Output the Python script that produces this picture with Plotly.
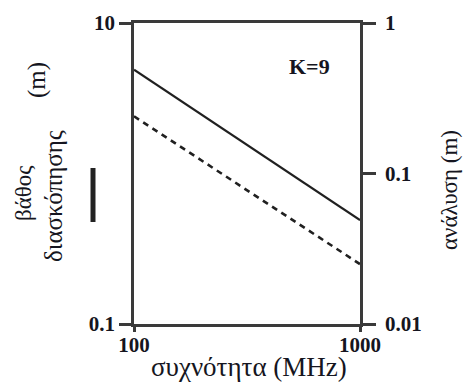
import plotly.graph_objects as go

# Frequency (MHz)
freq = [100, 1000]
# Penetration depth (m), left axis
depth = [4.9, 0.49]
# Resolution (m), right axis
resolution = [0.24, 0.025]

x_ticks = [100, 1000]
x_ticktext = ["100", "1000"]
y_ticks = [0.1, 10]
y_ticktext = ["0.1", "10"]
y2_ticks = [0.01, 0.1, 1]
y2_ticktext = ["0.01", "0.1", "1"]

W, H = 463, 382
L, R, T, B = 134, 360, 23, 324  # plot box in pixels


def px(x):
    return (x - L) / (R - L)


def py(y):
    return (B - y) / (B - T)


SERIF = "Liberation Serif"
INK = "#151520"
AXIS = "#3a3a3a"

fig = go.Figure()
fig.add_trace(go.Scatter(x=freq, y=depth, mode="lines",
                         line=dict(color="#202020", width=2.2),
                         showlegend=False, hoverinfo="skip"))
fig.add_trace(go.Scatter(x=freq, y=resolution, mode="lines", yaxis="y2",
                         line=dict(color="#202020", width=2.6, dash="6px,5px"),
                         showlegend=False, hoverinfo="skip"))

tickfont = dict(family=SERIF, size=21, color=INK, weight="bold")

fig.update_layout(
    width=W, height=H,
    margin=dict(l=L, r=W - R, t=T, b=H - B),
    paper_bgcolor="white", plot_bgcolor="white",
    xaxis=dict(type="log", range=[2, 3], tickvals=x_ticks, ticktext=x_ticktext,
               showgrid=False, zeroline=False, showline=True, linecolor=AXIS,
               linewidth=2.5, mirror=True, ticks="outside", ticklen=5,
               tickwidth=2.5, tickcolor=AXIS, tickfont=tickfont,
               ticklabelstandoff=-5),
    yaxis=dict(type="log", range=[-1, 1], tickvals=y_ticks, ticktext=y_ticktext,
               showgrid=False, zeroline=False, showline=True, linecolor=AXIS,
               linewidth=2.5, ticks="outside", ticklen=12, tickwidth=2.5,
               tickcolor=AXIS, tickfont=tickfont),
    yaxis2=dict(type="log", range=[-2, 0], overlaying="y", side="right",
                tickvals=y2_ticks, ticktext=y2_ticktext, showgrid=False,
                zeroline=False, showline=True, linecolor=AXIS, linewidth=2.5,
                ticks="outside", ticklen=13, tickwidth=2.5, tickcolor=AXIS,
                tickfont=tickfont, ticklabelstandoff=5),
)


def tf(size):
    return dict(family=SERIF, size=size, color=INK)


annots = [
    dict(text="συχνότητα (MHz)", x=px(249), y=py(367), textangle=0, font=tf(27)),
    dict(text="βάθος", x=px(23), y=py(194), textangle=-90, font=tf(23)),
    dict(text="διασκόπησης", x=px(53), y=py(196), textangle=-90, font=tf(25)),
    dict(text="(m)", x=px(37), y=py(80), textangle=-90, font=tf(25)),
    dict(text="ανάλυση (m)", x=px(449), y=py(190), textangle=-90, font=tf(23)),
    dict(text="K=9", x=px(309), y=py(67), textangle=0,
         font=dict(family=SERIF, size=22, color=INK, weight="bold")),
]
for a in annots:
    fig.add_annotation(xref="paper", yref="paper", showarrow=False,
                       xanchor="center", yanchor="middle", **a)

# solid-line key next to the depth label
fig.add_shape(type="line", xref="paper", yref="paper",
              x0=px(93), x1=px(93), y0=py(168), y1=py(222),
              line=dict(color="#222", width=5))

fig.write_html("out.html")
